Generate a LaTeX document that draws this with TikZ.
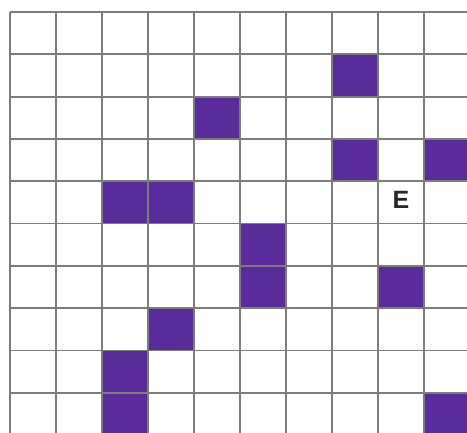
\documentclass[tikz,border=0pt]{standalone}
\usepackage{fontspec}
\setsansfont{Liberation Sans}
\definecolor{cellpurple}{HTML}{5A2B9A}
\definecolor{gridgray}{HTML}{7C7C7C}
\tikzset{
  filled/.style={fill=cellpurple, draw=none},
  gridline/.style={draw=gridgray, line width=1.7pt},
  letter/.style={font=\sffamily\bfseries\fontsize{25}{25}\selectfont, text=black!85, inner sep=0pt}
}
\begin{document}
\begin{tikzpicture}[x=1pt,y=-1pt]
\useasboundingbox (0,0) rectangle (467,433);
\clip (0,0) rectangle (467,433);
\fill[white] (0,0) rectangle (467,433);
\def\cw{46}
\def\rh{42.33}
% filled cells: col/row
\foreach \c/\r in {7/1, 4/2, 7/3, 9/3, 2/4, 3/4, 5/5, 5/6, 8/6, 3/7, 2/8, 2/9, 9/9}{
  \fill[filled] ({10+\cw*\c},{12+\rh*\r}) rectangle ({10+\cw*(\c+1)},{12+\rh*(\r+1)});
}
% grid lines
\foreach \c in {0,...,10}{
  \draw[gridline] ({10+\cw*\c},12) -- ({10+\cw*\c},450);
}
\foreach \r in {0,...,10}{
  \draw[gridline] (10,{12+\rh*\r}) -- (480,{12+\rh*\r});
}
\node[letter] (E) at ({10+\cw*8.5},{12+\rh*4.45}) {E};
\end{tikzpicture}
\end{document}
